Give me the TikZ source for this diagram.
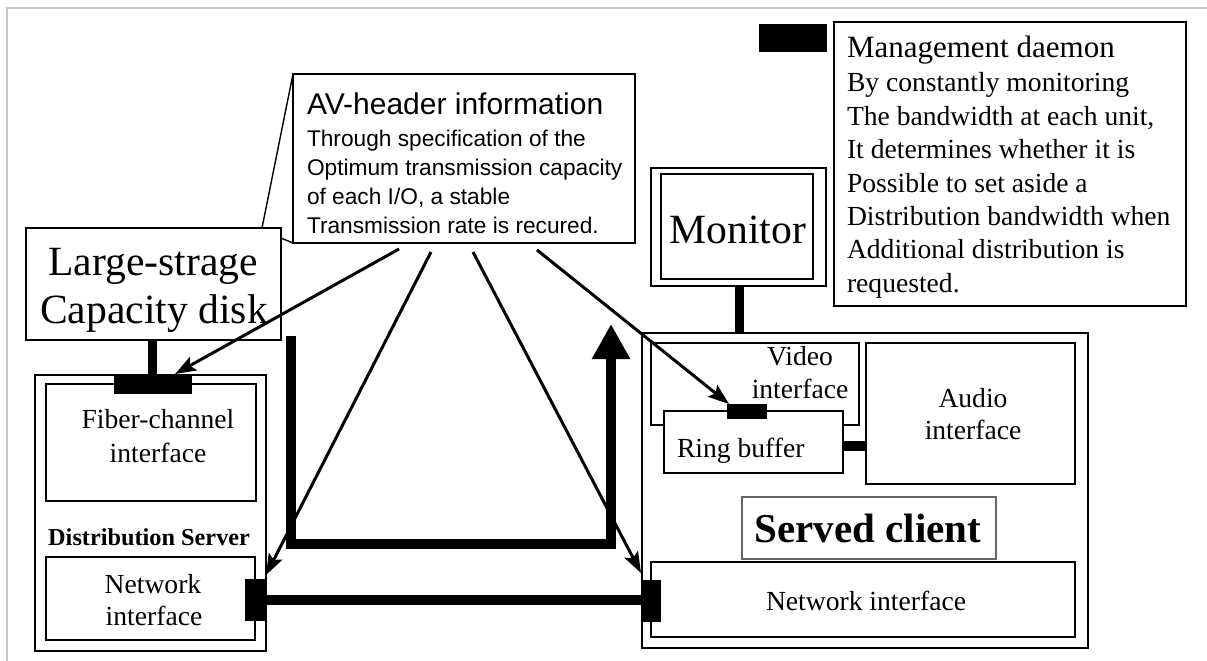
\documentclass[tikz,border=0pt]{standalone}
\usepackage{fontspec}
\setmainfont{Liberation Serif}
\newfontfamily\avfont{Liberation Sans}
\usetikzlibrary{arrows.meta}
\begin{document}
\begin{tikzpicture}[x=1pt,y=-1pt,
  box/.style={draw, line width=1.6pt, inner sep=0pt, outer sep=0pt, anchor=north west, fill=white},
  blk/.style={fill=black, draw=none, inner sep=0pt, outer sep=0pt, anchor=north west},
  tx/.style={inner sep=0pt, outer sep=0pt, font=\fontsize{27.6pt}{33pt}\selectfont},
  big/.style={inner sep=0pt, outer sep=0pt, font=\fontsize{41.6pt}{48pt}\selectfont},
  avt/.style={inner sep=0pt, outer sep=0pt, anchor=base west, font=\avfont\fontsize{22.7pt}{29pt}\selectfont},
  ptr/.style={line width=3pt, -{Stealth[length=21pt,width=15pt,inset=4pt]}},
  fat/.style={line width=10pt, line join=miter},
]
\useasboundingbox (0,0) rectangle (1207,661);
\fill[white] (0,0) rectangle (1207,661);
\draw[black!22, line width=2pt] (7,661) -- (7,8) -- (1207,8);

% AV header box and callout
\node[box, minimum width=342pt, minimum height=169pt] (av) at (293,74) {};
\coordinate (calA) at (262,228);
\coordinate (calB) at (281,238);
\draw[line width=1.4pt] (av.north west) -- (calA);
\draw[line width=1.4pt] (calB) -- (av.south west);
\node[avt, font=\avfont\fontsize{30pt}{34pt}\selectfont] (avtitle) at (307,114) {AV-header information};
\node[avt] (av1) at (307,146) {Through specification of the};
\node[avt] (av2) at (307,175) {Optimum transmission capacity};
\node[avt] (av3) at (307,204) {of each I/O, a stable};
\node[avt] (av4) at (307,233) {Transmission rate is recured.};

% Large storage disk
\node[box, minimum width=255pt, minimum height=112pt] (disk) at (26,228) {};
\node[big, anchor=base] (disk1) at (153,275) {Large-strage};
\node[big, anchor=base] (disk2) at (154,323) {Capacity disk};

% Management daemon
\node[blk, minimum width=68pt, minimum height=28pt] (mgblk) at (759,24) {};
\node[box, minimum width=352pt, minimum height=284pt] (mgmt) at (834,22) {};
\node[tx, anchor=base west, font=\fontsize{31pt}{34pt}\selectfont] (mg0) at (847,58) {Management daemon};
\node[tx, anchor=base west] (mg1) at (847,92) {By constantly monitoring};
\node[tx, anchor=base west] (mg2) at (847,125) {The bandwidth at each unit,};
\node[tx, anchor=base west] (mg3) at (847,158) {It determines whether it is};
\node[tx, anchor=base west] (mg4) at (847,192) {Possible to set aside a};
\node[tx, anchor=base west] (mg5) at (847,225) {Distribution bandwidth when};
\node[tx, anchor=base west] (mg6) at (847,258) {Additional distribution is};
\node[tx, anchor=base west] (mg7) at (847,292) {requested.};

% Monitor
\node[box, line width=1.8pt, minimum width=175pt, minimum height=118pt] (monout) at (651,168) {};
\node[box, line width=1.8pt, minimum width=152pt, minimum height=105pt] (monin) at (661,174) {};
\node[big, anchor=base] (mont) at (738,243) {Monitor};

% Distribution server
\node[box, minimum width=231pt, minimum height=276pt] (dserv) at (35,375) {};
\node[box, minimum width=210pt, minimum height=117pt] (fiber) at (46,384) {};
\node[tx, anchor=base] (fib1) at (158,428) {Fiber-channel};
\node[tx, anchor=base] (fib2) at (158,462) {interface};
\node[inner sep=0pt, anchor=base west, font=\fontsize{24.3pt}{28pt}\selectfont\bfseries] (dslab) at (48,545) {Distribution Server};
\node[box, minimum width=209pt, minimum height=83pt] (dnet) at (46,557) {};
\node[tx, anchor=base] (dn1) at (153,593) {Network};
\node[tx, anchor=base] (dn2) at (154,625) {interface};
\node[blk, minimum width=78pt, minimum height=20pt] (fconn) at (114,374) {};
\node[blk, minimum width=9pt, minimum height=34pt] (dstem) at (148,340) {};
\node[blk, minimum width=21pt, minimum height=42pt] (dnconn) at (245,579) {};

% Served client
\node[box, minimum width=446pt, minimum height=315pt] (client) at (642,333) {};
\node[box, minimum width=208pt, minimum height=82pt] (video) at (651,343) {};
\node[tx, anchor=base] (vid1) at (800,365) {Video};
\node[tx, anchor=base] (vid2) at (800,398) {interface};
\node[box, minimum width=179pt, minimum height=62pt] (ring) at (664,411) {};
\node[tx, anchor=base west] (ringt) at (677,457) {Ring buffer};
\node[box, minimum width=209pt, minimum height=141pt] (audio) at (866,343) {};
\node[tx, anchor=base] (aud1) at (973,407) {Audio};
\node[tx, anchor=base] (aud2) at (973,439) {interface};
\node[box, draw=black!60, line width=1.1pt, minimum width=254pt, minimum height=62pt] (slab) at (742,497) {};
\node[inner sep=0pt, anchor=base, font=\fontsize{41pt}{46pt}\selectfont\bfseries] (slabt) at (868,542) {Served client};
\node[box, minimum width=424pt, minimum height=75pt] (cnet) at (651,562) {};
\node[tx, anchor=base] (cnt) at (866,610) {Network interface};
\node[blk, minimum width=40pt, minimum height=15pt] (rconn) at (727,404) {};
\node[blk, minimum width=24pt, minimum height=10pt] (raconn) at (843,441) {};
\node[blk, minimum width=20pt, minimum height=42pt] (cnconn) at (641,580) {};
\node[blk, minimum width=9pt, minimum height=47pt] (mstem) at (735,286) {};

% thick links
\draw[fat] (dnconn.east) -- (dnconn.east -| cnconn.west);
\coordinate (uA) at (291,336);
\coordinate (uB) at (291,544);
\coordinate (uC) at (611,544);
\coordinate (uD) at (611,324);
\draw[fat, -{Triangle[length=35pt,width=36pt]}] (uA) -- (uB) -- (uC) -- (uD);

% thin arrows from AV header
\coordinate (s1) at (399,249);
\coordinate (s2) at (431,252);
\coordinate (s3) at (473,252);
\coordinate (s4) at (537,250);
\draw[ptr] (s1) -- ([xshift=22pt]fconn.north);
\draw[ptr] (s2) -- ([yshift=4pt]dnconn.north east);
\draw[ptr] (s3) -- ([yshift=7pt]cnconn.north west);
\draw[ptr] (s4) -- ([xshift=2pt]rconn.north west);
\end{tikzpicture}
\end{document}
